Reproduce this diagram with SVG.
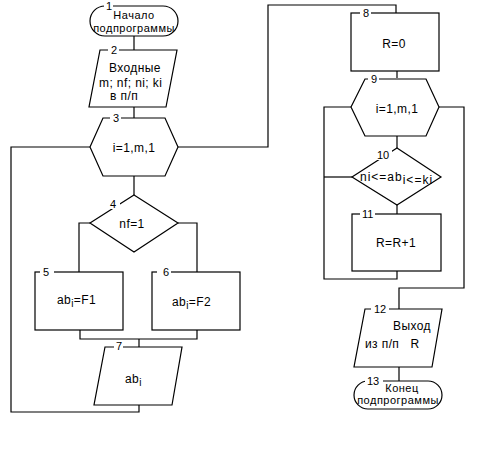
<svg xmlns="http://www.w3.org/2000/svg" width="482" height="451" viewBox="0 0 482 451">
<style>
.s{fill:none;stroke:#000;stroke-width:1.2}
.w{fill:#fff;stroke:none}
.t{font-family:"Liberation Sans",Arial,sans-serif;font-size:12px;letter-spacing:0.4px;fill:#000}
.tt{font-family:"Liberation Sans",Arial,sans-serif;font-size:11px;letter-spacing:0.5px;fill:#000}
.n{font-family:"Liberation Sans",Arial,sans-serif;font-size:11px;fill:#000}
.c{text-anchor:middle}
.sub{font-size:10px}
</style>
<rect width="482" height="451" fill="#fff"/>
<g id="connectors" class="s">
<path d="M134,36V50"/>
<path d="M134,107V118"/>
<path d="M134,176V195"/>
<path d="M90,147H11V412H139V405"/>
<path d="M178,147H268V5H396V13"/>
<path d="M90,223H79V272"/>
<path d="M178,223H197V272"/>
<path d="M80,330V339H197V330"/>
<path d="M139,339V347"/>
<path d="M397,71V78"/>
<path d="M397,136V148"/>
<path d="M351,107H324V279H397V271"/>
<path d="M352,177H324"/>
<path d="M397,205V214"/>
<path d="M439,107H464V288H399V309"/>
<path d="M399,367V381"/>
</g>
<g id="n1">
<rect class="s" x="90" y="6" width="88" height="30" rx="15"/>
<rect class="w" x="104" y="3" width="9" height="6"/>
<text class="n" x="106" y="10">1</text>
<text class="tt c" x="134" y="19">Начало</text>
<text class="tt c" x="134" y="31.5">подпрограммы</text>
</g>
<g id="n2">
<path class="s" d="M100,50H177L166,107H89Z"/>
<rect class="w" x="108" y="47" width="11" height="6"/>
<text class="n" x="111" y="54">2</text>
<text class="t" x="109" y="72">Входные</text>
<text class="t" x="99" y="87">m; nf; ni; ki</text>
<text class="t" x="110" y="100">в п/п</text>
</g>
<g id="n3">
<path class="s" d="M90,147L103,118H165L178,147L165,176H103Z"/>
<rect class="w" x="110" y="115" width="11" height="6"/>
<text class="n" x="113" y="122">3</text>
<text class="t c" x="134" y="152">i=1,m,1</text>
</g>
<g id="n4">
<path class="s" d="M134,195L178,223L134,252L90,223Z"/>
<rect class="w" x="108" y="200" width="12" height="9"/>
<text class="n" x="110" y="208">4</text>
<text class="t c" x="132" y="228">nf=1</text>
</g>
<g id="n5">
<rect class="s" x="35" y="272" width="88" height="58"/>
<rect class="w" x="40" y="269" width="14" height="6"/>
<text class="n" x="43" y="276">5</text>
<text class="t" x="57" y="304">ab<tspan class="sub" dy="3">i</tspan><tspan dy="-3">=F1</tspan></text>
</g>
<g id="n6">
<rect class="s" x="152" y="272" width="88" height="58"/>
<rect class="w" x="157" y="269" width="14" height="6"/>
<text class="n" x="163" y="276">6</text>
<text class="t" x="172" y="306">ab<tspan class="sub" dy="3">i</tspan><tspan dy="-3">=F2</tspan></text>
</g>
<g id="n7">
<path class="s" d="M105,347H182L172,405H94Z"/>
<rect class="w" x="114" y="344" width="9" height="6"/>
<text class="n" x="116" y="350">7</text>
<text class="t" x="125" y="383">ab<tspan class="sub" dy="3">i</tspan></text>
</g>
<g id="n8">
<rect class="s" x="351" y="13" width="88" height="58"/>
<rect class="w" x="360" y="10" width="11" height="6"/>
<text class="n" x="363" y="17">8</text>
<text class="t c" x="394" y="48">R=0</text>
</g>
<g id="n9">
<path class="s" d="M351,107L365,79H426L439,107L426,136H365Z"/>
<rect class="w" x="368" y="76" width="11" height="6"/>
<text class="n" x="371" y="83">9</text>
<text class="t c" x="397" y="113">i=1,m,1</text>
</g>
<g id="n10">
<path class="s" d="M397,148L441,177L397,205L352,177Z"/>
<rect class="w" x="374" y="150" width="18" height="10"/>
<text class="n" x="377" y="159">10</text>
<text class="t" x="360" y="181" style="letter-spacing:1px">ni&lt;=ab<tspan dy="3">i&lt;=ki</tspan></text>
</g>
<g id="n11">
<rect class="s" x="352" y="214" width="89" height="57"/>
<rect class="w" x="360" y="211" width="15" height="6"/>
<text class="n" x="362" y="218">11</text>
<text class="t c" x="396" y="247">R=R+1</text>
</g>
<g id="n12">
<path class="s" d="M365,309H442L432,367H354Z"/>
<rect class="w" x="371" y="306" width="18" height="6"/>
<text class="n" x="374" y="313">12</text>
<text class="t" x="393" y="330">Выход</text>
<text class="t" x="365" y="348" xml:space="preserve">из п/п   R</text>
</g>
<g id="n13">
<rect class="s" x="354" y="381" width="88" height="28" rx="14"/>
<rect class="w" x="365" y="378" width="18" height="6"/>
<text class="n" x="367" y="385">13</text>
<text class="tt c" x="402" y="392">Конец</text>
<text class="tt c" x="398" y="404">подпрограммы</text>
</g>
</svg>
